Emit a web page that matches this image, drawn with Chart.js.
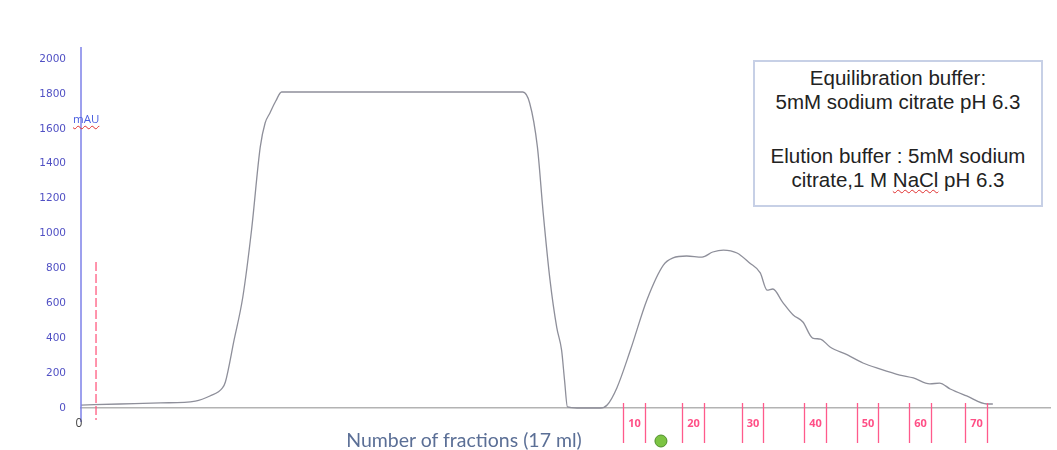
<!DOCTYPE html>
<html>
<head>
<meta charset="utf-8">
<script src="https://cdn.jsdelivr.net/npm/chart.js@4.4.1/dist/chart.umd.min.js"></script>
<style>
  html, body { margin: 0; padding: 0; background: #fff; }
  #wrap { position: relative; width: 1057px; height: 450px; }
  #legend-box {
    position: absolute; left: 753px; top: 60px; width: 286px; height: 139px;
    border: 2px solid #c7d0e6; background: #fff;
    font-family: "Liberation Sans", Arial, sans-serif; font-size: 20.5px; color: #222;
    text-align: center; line-height: 24px; padding-top: 4px; box-sizing: content-box;
    white-space: nowrap;
  }
  #legend-box p { margin: 0; }
  #legend-box .gap { height: 30px; }
  .wavy { text-decoration: underline wavy #e03030; text-decoration-thickness: 1px; text-underline-offset: 2px; }
  #x-title {
    position: absolute; left: 334px; top: 428px; width: 260px; text-align: center;
    font-family: Lato, "Open Sans", sans-serif; font-size: 19.5px; color: #5b6f96; white-space: nowrap;
  }
  #mau {
    position: absolute; left: 73px; top: 111px;
    font-family: "Open Sans", sans-serif; font-size: 11.5px; color: #4a5ee0;
  }
</style>
</head>
<body>
<div id="wrap">
  <canvas id="chart" width="1057" height="450"></canvas>
  <div id="mau"><span class="wavy">mAU</span></div>
  <div id="legend-box">
    <p>Equilibration buffer:</p>
    <p>5mM sodium citrate pH 6.3</p>
    <div class="gap"></div>
    <p>Elution buffer : 5mM sodium</p>
    <p>citrate,1 M <span class="wavy">NaCl</span> pH 6.3</p>
  </div>
  <div id="x-title">Number of fractions (17 ml)</div>
</div>
<script>
// volume (arbitrary ml scale) vs absorbance (mAU)
const volume = [0, 40, 82, 118, 133, 146, 149, 158, 167, 176, 185, 190, 195, 201, 207, 329, 456, 463, 471, 477, 484, 491, 496, 499, 502, 512, 536, 543, 553, 567, 584, 601, 611, 625, 641, 652, 663, 677, 690, 701, 708, 714, 724, 735, 745, 755, 763, 773, 791, 807, 825, 845, 859, 876, 886, 897, 914, 935, 941];
const mAU = [17, 23, 29, 40, 69, 115, 149, 390, 636, 1020, 1496, 1633, 1691, 1759, 1811, 1811, 1811, 1748, 1496, 1117, 734, 460, 330, 160, 6, 0, 0, 17, 115, 332, 619, 819, 860, 871, 865, 894, 905, 888, 831, 774, 676, 682, 607, 533, 493, 401, 395, 350, 304, 258, 223, 189, 172, 138, 143, 109, 69, 23, 23];

const yTicks = [0, 200, 400, 600, 800, 1000, 1200, 1400, 1600, 1800, 2000];

// fraction collection marks
const fracLabels = ["10", "20", "30", "40", "50", "60", "70"];
const fracStart = [559, 620, 682, 746, 801, 854, 912];
const fracEnd = [582, 643, 704, 769, 822, 877, 935];

const injectMark = 15.5;   // red dashed marker
const greenDot = 598.5;    // green event marker

const marks = {
  id: "marks",
  afterDraw(chart) {
    const { ctx, chartArea: a } = chart;
    const xs = chart.scales.x;
    ctx.save();
    // y axis line
    ctx.strokeStyle = "#7c80e8";
    ctx.lineWidth = 1.5;
    ctx.beginPath();
    ctx.moveTo(a.left, 47);
    ctx.lineTo(a.left, 422);
    ctx.stroke();

    // red dashed marker
    const rx = xs.getPixelForValue(injectMark);
    ctx.strokeStyle = "#ff5c80";
    ctx.lineWidth = 1.3;
    ctx.setLineDash([9, 3]);
    ctx.beginPath();
    ctx.moveTo(rx, 262);
    ctx.lineTo(rx, 420);
    ctx.stroke();
    ctx.setLineDash([]);

    // fraction marks
    ctx.strokeStyle = "#ff5a8c";
    ctx.fillStyle = "#ff4f86";
    ctx.font = "bold 11px 'Open Sans', sans-serif";
    ctx.textAlign = "center";
    ctx.textBaseline = "middle";
    fracLabels.forEach((lab, i) => {
      const x1 = Math.round(xs.getPixelForValue(fracStart[i])) + 0.5;
      const x2 = Math.round(xs.getPixelForValue(fracEnd[i])) + 0.5;
      ctx.beginPath();
      ctx.moveTo(x1, a.bottom - 5); ctx.lineTo(x1, a.bottom + 35);
      ctx.moveTo(x2, a.bottom - 5); ctx.lineTo(x2, a.bottom + 35);
      ctx.stroke();
      ctx.fillText(lab, (x1 + x2) / 2, a.bottom + 16);
    });

    // green dot
    const gx = xs.getPixelForValue(greenDot);
    ctx.fillStyle = "#7cc443";
    ctx.strokeStyle = "#4f8f2a";
    ctx.lineWidth = 1;
    ctx.beginPath();
    ctx.arc(gx, a.bottom + 33, 6, 0, Math.PI * 2);
    ctx.fill();
    ctx.stroke();

    // origin label
    ctx.fillStyle = "#444";
    ctx.font = "12px 'Open Sans', sans-serif";
    ctx.fillText("0", a.left - 2, a.bottom + 16);
    ctx.restore();
  },
};

new Chart(document.getElementById("chart"), {
  type: "line",
  data: {
    datasets: [{
      data: volume.map((v, i) => ({ x: v, y: mAU[i] })),
      borderColor: "#8e8f9a",
      borderWidth: 1.3,
      pointRadius: 0,
      cubicInterpolationMode: "monotone",
      clip: false,
    }],
  },
  options: {
    responsive: false,
    animation: false,
    layout: { padding: { top: 59, right: 7, left: 0, bottom: 0 } },
    plugins: { legend: { display: false }, tooltip: { enabled: false } },
    scales: {
      x: {
        type: "linear", min: 0, max: 1000,
        ticks: { display: false },
        grid: { display: false, drawTicks: false },
        border: { display: true, color: "#b3b3b3", width: 1.5 },
        afterFit(s) { s.height = 42; },
      },
      y: {
        min: 0, max: 2000,
        afterBuildTicks(s) { s.ticks = yTicks.map((v) => ({ value: v })); },
        ticks: {
          color: "#5050c4", font: { family: "DejaVu Sans", size: 10.5 }, padding: 15,
          callback: (v) => String(v),
        },
        grid: { display: false, drawTicks: false },
        border: { display: false },
        afterFit(s) { s.width = 81; },
      },
    },
  },
  plugins: [marks],
});
</script>
</body>
</html>
